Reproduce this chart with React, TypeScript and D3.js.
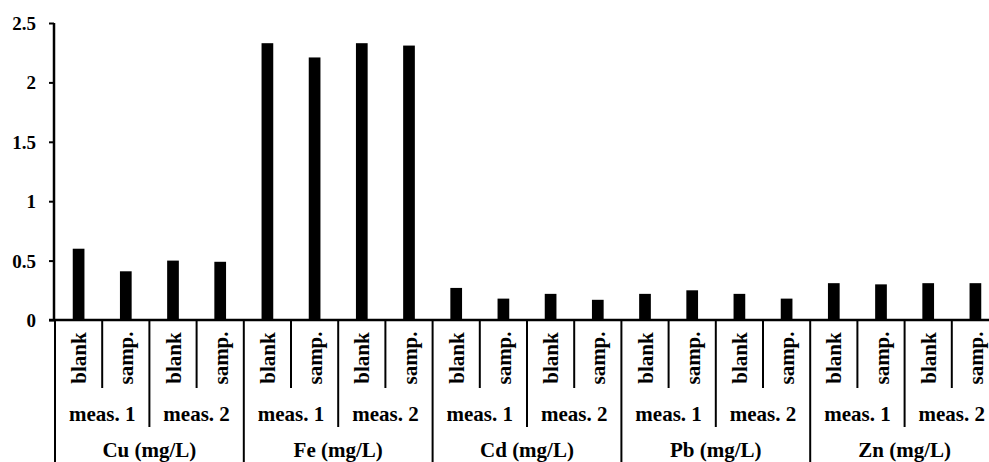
import React, { useEffect, useRef } from 'react';
import { select, scaleLinear, scaleBand, axisLeft } from 'd3';

const elements = ['Cu (mg/L)', 'Fe (mg/L)', 'Cd (mg/L)', 'Pb (mg/L)', 'Zn (mg/L)'];
const measurements = ['meas. 1', 'meas. 2'];
const samples = ['blank', 'samp.'];

// values per element: meas.1 blank, meas.1 samp., meas.2 blank, meas.2 samp.
const cuValues = [0.6, 0.41, 0.5, 0.49];
const feValues = [2.33, 2.21, 2.33, 2.31];
const cdValues = [0.27, 0.18, 0.22, 0.17];
const pbValues = [0.22, 0.25, 0.22, 0.18];
const znValues = [0.31, 0.3, 0.31, 0.31];
const yTicks = [0, 0.5, 1, 1.5, 2, 2.5];

const allValues = [cuValues, feValues, cdValues, pbValues, znValues];

const font = 'Liberation Serif';

const W = 989, H = 462;
const left = 55, right = 999, top = 23, base = 320;

export default function App() {
  const axisRef = useRef<SVGGElement>(null);

  const rows = [] as { id: string; el: number; m: number; s: number; v: number }[];
  elements.forEach((e, ei) =>
    measurements.forEach((m, mi) =>
      samples.forEach((s, si) => {
        rows.push({ id: `${ei}-${mi}-${si}`, el: ei, m: mi, s: si, v: allValues[ei][mi * 2 + si] });
      })
    )
  );

  const x = scaleBand().domain(rows.map(d => d.id)).range([left, right]);
  const step = x.step();
  const bw = step * 0.248;
  const y = scaleLinear().domain([0, 2.5]).range([base, top]);

  useEffect(() => {
    const g = select(axisRef.current);
    g.selectAll('*').remove();
    g.call(axisLeft(y).tickValues(yTicks).tickSize(5).tickPadding(13).tickFormat((d: any) => String(d)) as any);
    g.select('.domain').remove();
    g.attr('font-family', null).attr('font-size', null);
    g.selectAll('.tick line').attr('stroke', '#000').attr('stroke-width', 2);
    g.selectAll('.tick text')
      .style('font-family', font)
      .style('font-weight', 'bold')
      .style('font-size', '19px')
      .attr('fill', '#000')
      .attr('dy', '0.34em');
  }, []);

  const sw = 2;
  const seps = [] as { xx: number; y2: number }[];
  for (let i = 0; i <= rows.length; i++) {
    const xx = left + i * step;
    let y2 = 388;
    if (i % 4 === 0) y2 = H;
    else if (i % 2 === 0) y2 = 427;
    seps.push({ xx, y2 });
  }

  return (
    <svg width={W} height={H} style={{ position: 'absolute', left: 0, top: 0, background: '#fff' }}>
      <g ref={axisRef} transform={`translate(${left - 1},0)`} />
      {rows.map(d => (
        <rect key={d.id} x={(x(d.id) as number) + (step - bw) / 2} y={y(d.v)} width={bw} height={base - y(d.v)} fill="#000" />
      ))}
      <line x1={left - 1} x2={left - 1} y1={top} y2={base} stroke="#000" strokeWidth={2.5} />
      {seps.map((s, i) => (
        <line key={i} x1={s.xx} x2={s.xx} y1={base} y2={s.y2} stroke="#000" strokeWidth={sw} />
      ))}
      <line x1={left - 6} x2={W} y1={base} y2={base} stroke="#000" strokeWidth={2.5} />
      <g style={{ fontFamily: font, fontWeight: 'bold', fontSize: '21px' }} fill="#000">
        {rows.map(d => {
          const cx = (x(d.id) as number) + step / 2;
          return (
            <text key={'s' + d.id} transform={`translate(${cx + 7.5},358) rotate(-90)`} textAnchor="middle">
              {samples[d.s]}
            </text>
          );
        })}
        {elements.map((e, ei) =>
          measurements.map((m, mi) => {
            const cx = left + (ei * 4 + mi * 2 + 1) * step;
            return (
              <text key={`m${ei}${mi}`} x={cx} y={421} textAnchor="middle">{m}</text>
            );
          })
        )}
        {elements.map((e, ei) => (
          <text key={'e' + ei} x={left + (ei * 4 + 2) * step} y={457} textAnchor="middle">{e}</text>
        ))}
      </g>
    </svg>
  );
}
